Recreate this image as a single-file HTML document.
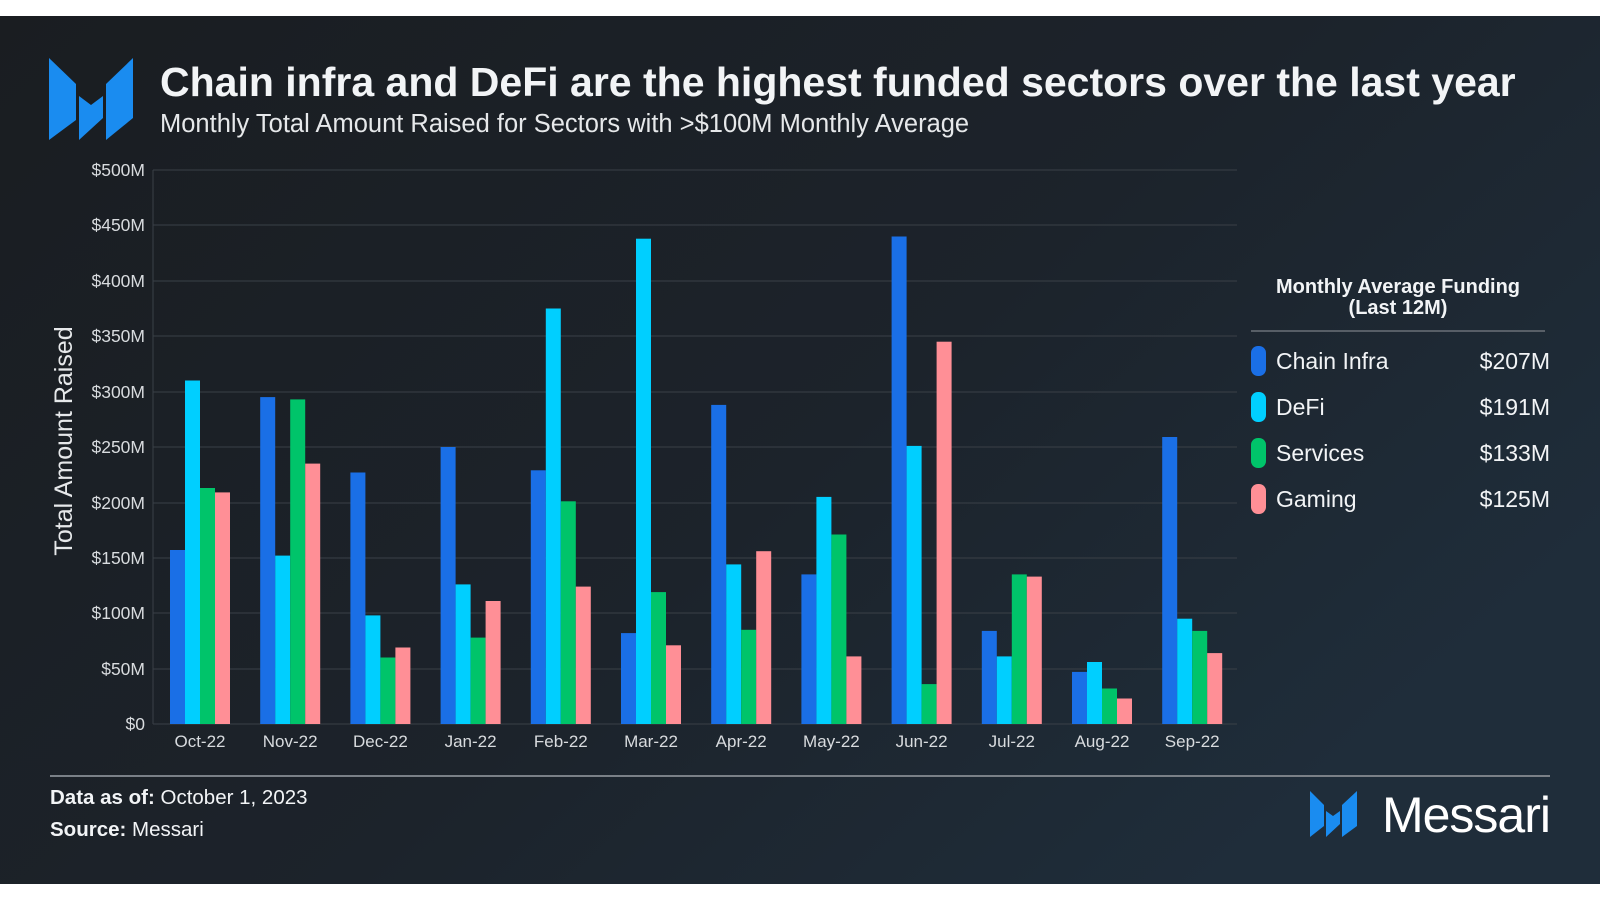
<!DOCTYPE html>
<html><head><meta charset="utf-8"><style>
html,body{margin:0;padding:0;background:#fff;}
body{width:1600px;height:900px;overflow:hidden;font-family:"Liberation Sans",sans-serif;}
</style></head><body>
<svg width="1600" height="900" xmlns="http://www.w3.org/2000/svg" font-family="Liberation Sans, sans-serif">
<defs>
<linearGradient id="bg" x1="0" y1="0" x2="1" y2="0.6">
<stop offset="0" stop-color="#1a1d21"/><stop offset="0.6" stop-color="#1c232b"/><stop offset="1" stop-color="#1f2d3a"/>
</linearGradient>
</defs>
<rect x="0" y="16" width="1600" height="868" fill="url(#bg)"/>
<g fill="#1a8cf0">
<polygon points="49,58 76,84 76,120 49,140"/>
<polygon points="79,96 91,105 103,96 103,118 79,140"/>
<polygon points="106,84 133,58 133,118 106,140"/>
</g>
<text x="160" y="96" fill="#f2f4f6" font-size="41" font-weight="bold">Chain infra and DeFi are the highest funded sectors over the last year</text>
<text x="160" y="132" fill="#e6e8ea" font-size="25.5">Monthly Total Amount Raised for Sectors with &gt;$100M Monthly Average</text>
<g stroke="#3a4047" stroke-width="1">
<line x1="153" y1="170" x2="1237" y2="170"/><line x1="153" y1="225" x2="1237" y2="225"/>
<line x1="153" y1="281" x2="1237" y2="281"/><line x1="153" y1="336" x2="1237" y2="336"/>
<line x1="153" y1="392" x2="1237" y2="392"/><line x1="153" y1="447" x2="1237" y2="447"/>
<line x1="153" y1="503" x2="1237" y2="503"/><line x1="153" y1="558" x2="1237" y2="558"/>
<line x1="153" y1="613" x2="1237" y2="613"/><line x1="153" y1="669" x2="1237" y2="669"/>
<line x1="153" y1="724" x2="1237" y2="724"/>
<line x1="153" y1="170" x2="153" y2="724"/>
</g>
<g fill="#d8dbde" font-size="17.5" text-anchor="end">
<text x="145" y="176">$500M</text><text x="145" y="231">$450M</text><text x="145" y="287">$400M</text>
<text x="145" y="342">$350M</text><text x="145" y="398">$300M</text><text x="145" y="453">$250M</text>
<text x="145" y="509">$200M</text><text x="145" y="564">$150M</text><text x="145" y="619">$100M</text>
<text x="145" y="675">$50M</text><text x="145" y="730">$0</text>
</g>
<text transform="translate(72,441) rotate(-90)" fill="#e6e8ea" font-size="25" text-anchor="middle">Total Amount Raised</text>
<g>
<rect x="170" y="550" width="15" height="174" fill="#1a6fe6"/><rect x="185" y="380.5" width="15" height="343.5" fill="#00cfff"/><rect x="200" y="488" width="15" height="236" fill="#00c46a"/><rect x="215" y="492.4" width="15" height="231.6" fill="#ff8f96"/>
<rect x="260.2" y="397.1" width="15" height="326.9" fill="#1a6fe6"/><rect x="275.2" y="555.6" width="15" height="168.4" fill="#00cfff"/><rect x="290.2" y="399.4" width="15" height="324.6" fill="#00c46a"/><rect x="305.2" y="463.6" width="15" height="260.4" fill="#ff8f96"/>
<rect x="350.4" y="472.5" width="15" height="251.5" fill="#1a6fe6"/><rect x="365.4" y="615.4" width="15" height="108.6" fill="#00cfff"/><rect x="380.4" y="657.5" width="15" height="66.5" fill="#00c46a"/><rect x="395.4" y="647.5" width="15" height="76.5" fill="#ff8f96"/>
<rect x="440.6" y="447" width="15" height="277" fill="#1a6fe6"/><rect x="455.6" y="584.4" width="15" height="139.6" fill="#00cfff"/><rect x="470.6" y="637.6" width="15" height="86.4" fill="#00c46a"/><rect x="485.6" y="601" width="15" height="123" fill="#ff8f96"/>
<rect x="530.8" y="470.3" width="15" height="253.7" fill="#1a6fe6"/><rect x="545.8" y="308.5" width="15" height="415.5" fill="#00cfff"/><rect x="560.8" y="501.3" width="15" height="222.7" fill="#00c46a"/><rect x="575.8" y="586.6" width="15" height="137.4" fill="#ff8f96"/>
<rect x="621" y="633.1" width="15" height="90.9" fill="#1a6fe6"/><rect x="636" y="238.7" width="15" height="485.3" fill="#00cfff"/><rect x="651" y="592.1" width="15" height="131.9" fill="#00c46a"/><rect x="666" y="645.3" width="15" height="78.7" fill="#ff8f96"/>
<rect x="711.2" y="404.9" width="15" height="319.1" fill="#1a6fe6"/><rect x="726.2" y="564.4" width="15" height="159.6" fill="#00cfff"/><rect x="741.2" y="629.8" width="15" height="94.2" fill="#00c46a"/><rect x="756.2" y="551.2" width="15" height="172.8" fill="#ff8f96"/>
<rect x="801.4" y="574.4" width="15" height="149.6" fill="#1a6fe6"/><rect x="816.4" y="496.9" width="15" height="227.1" fill="#00cfff"/><rect x="831.4" y="534.5" width="15" height="189.5" fill="#00c46a"/><rect x="846.4" y="656.4" width="15" height="67.6" fill="#ff8f96"/>
<rect x="891.6" y="236.5" width="15" height="487.5" fill="#1a6fe6"/><rect x="906.6" y="445.9" width="15" height="278.1" fill="#00cfff"/><rect x="921.6" y="684.1" width="15" height="39.9" fill="#00c46a"/><rect x="936.6" y="341.7" width="15" height="382.3" fill="#ff8f96"/>
<rect x="981.8" y="630.9" width="15" height="93.1" fill="#1a6fe6"/><rect x="996.8" y="656.4" width="15" height="67.6" fill="#00cfff"/><rect x="1011.8" y="574.4" width="15" height="149.6" fill="#00c46a"/><rect x="1026.8" y="576.6" width="15" height="147.4" fill="#ff8f96"/>
<rect x="1072" y="671.9" width="15" height="52.1" fill="#1a6fe6"/><rect x="1087" y="662" width="15" height="62" fill="#00cfff"/><rect x="1102" y="688.5" width="15" height="35.5" fill="#00c46a"/><rect x="1117" y="698.5" width="15" height="25.5" fill="#ff8f96"/>
<rect x="1162.2" y="437" width="15" height="287" fill="#1a6fe6"/><rect x="1177.2" y="618.7" width="15" height="105.3" fill="#00cfff"/><rect x="1192.2" y="630.9" width="15" height="93.1" fill="#00c46a"/><rect x="1207.2" y="653.1" width="15" height="70.9" fill="#ff8f96"/>
</g>
<g fill="#d8dbde" font-size="17" text-anchor="middle">
<text x="200" y="747">Oct-22</text><text x="290.2" y="747">Nov-22</text><text x="380.4" y="747">Dec-22</text><text x="470.6" y="747">Jan-22</text>
<text x="560.8" y="747">Feb-22</text><text x="651" y="747">Mar-22</text><text x="741.2" y="747">Apr-22</text><text x="831.4" y="747">May-22</text>
<text x="921.6" y="747">Jun-22</text><text x="1011.8" y="747">Jul-22</text><text x="1102" y="747">Aug-22</text><text x="1192.2" y="747">Sep-22</text>
</g>
<text x="1398" y="293" fill="#f2f4f6" font-size="20" font-weight="bold" text-anchor="middle">Monthly Average Funding</text>
<text x="1398" y="314" fill="#f2f4f6" font-size="20" font-weight="bold" text-anchor="middle">(Last 12M)</text>
<line x1="1251" y1="331" x2="1545" y2="331" stroke="#6b7178" stroke-width="1.5"/>
<g font-size="23" fill="#f2f4f6">
<rect x="1251" y="346" width="15" height="30" rx="7" fill="#1a6fe6"/><text x="1276" y="369">Chain Infra</text><text x="1550" y="369" text-anchor="end">$207M</text>
<rect x="1251" y="392" width="15" height="30" rx="7" fill="#00cfff"/><text x="1276" y="415">DeFi</text><text x="1550" y="415" text-anchor="end">$191M</text>
<rect x="1251" y="438" width="15" height="30" rx="7" fill="#00c46a"/><text x="1276" y="461">Services</text><text x="1550" y="461" text-anchor="end">$133M</text>
<rect x="1251" y="484" width="15" height="30" rx="7" fill="#ff8f96"/><text x="1276" y="507">Gaming</text><text x="1550" y="507" text-anchor="end">$125M</text>
</g>
<line x1="50" y1="776" x2="1550" y2="776" stroke="#7a8087" stroke-width="2"/>
<text x="50" y="804" fill="#f2f4f6" font-size="20.5"><tspan font-weight="bold">Data as of:</tspan> October 1, 2023</text>
<text x="50" y="836" fill="#f2f4f6" font-size="20.5"><tspan font-weight="bold">Source:</tspan> Messari</text>
<g fill="#1a8cf0">
<polygon points="1310,791 1324,805 1324,826 1310,837"/>
<polygon points="1326,811 1333,816 1340,811 1340,824 1326,837"/>
<polygon points="1342,805 1357,791 1357,826 1342,837"/>
</g>
<text x="1550" y="832" fill="#ffffff" font-size="50" text-anchor="end" letter-spacing="-1">Messari</text>
</svg>
</body></html>
